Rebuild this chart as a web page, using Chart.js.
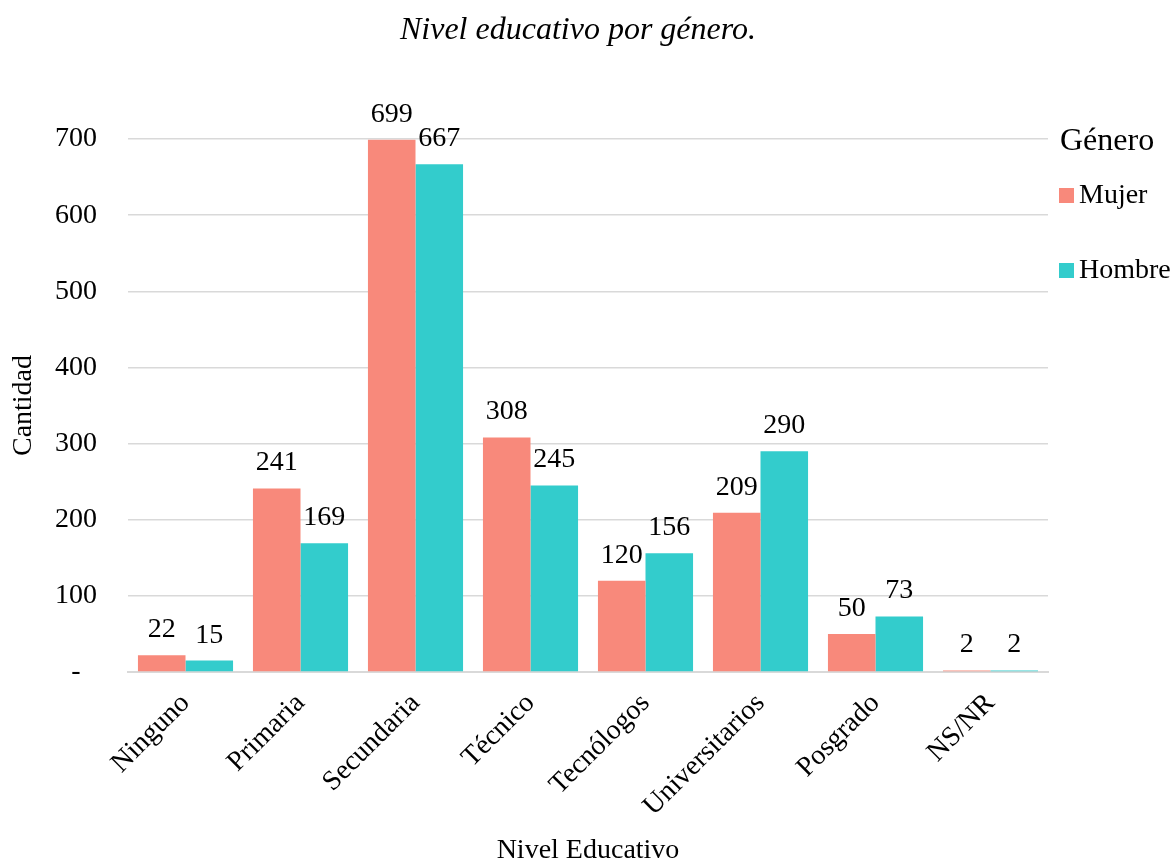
<!DOCTYPE html>
<html>
<head>
<meta charset="utf-8">
<script src="https://cdn.jsdelivr.net/npm/chart.js@4/dist/chart.umd.min.js"></script>
<style>
  html, body { margin: 0; padding: 0; background: #fff; }
  #wrap { width: 1176px; height: 861px; }
</style>
</head>
<body>
<div id="wrap"><canvas id="c" width="1176" height="861"></canvas></div>
<script>
// Nivel educativo por género
const categories = ['Ninguno', 'Primaria', 'Secundaria', 'Técnico', 'Tecnólogos', 'Universitarios', 'Posgrado', 'NS/NR'];
const mujer = [22, 241, 699, 308, 120, 209, 50, 2];
const hombre = [15, 169, 667, 245, 156, 290, 73, 2];
const seriesNames = ['Mujer', 'Hombre'];
const yTicks = [0, 100, 200, 300, 400, 500, 600, 700];

const SERIF = '"Liberation Serif", "Times New Roman", serif';
const COLORS = ['#F8897B', '#33CCCC'];

// value labels above each bar
const barValues = {
  id: 'barValues',
  afterDatasetsDraw(chart) {
    const ctx = chart.ctx;
    ctx.save();
    ctx.font = '28px ' + SERIF;
    ctx.fillStyle = '#000';
    ctx.textAlign = 'center';
    ctx.textBaseline = 'alphabetic';
    chart.data.datasets.forEach((ds, di) => {
      chart.getDatasetMeta(di).data.forEach((bar, i) => {
        ctx.fillText(String(ds.data[i]), bar.x, bar.y - 18);
      });
    });
    ctx.restore();
  }
};

// legend with title drawn in the right-hand gutter
const sideLegend = {
  id: 'sideLegend',
  afterDraw(chart) {
    const ctx = chart.ctx;
    const x0 = chart.chartArea.right + 11;
    ctx.save();
    ctx.fillStyle = '#000';
    ctx.textAlign = 'left';
    ctx.textBaseline = 'middle';
    ctx.font = '32px ' + SERIF;
    ctx.fillText('Género', x0 + 1, chart.chartArea.top + 3);
    ctx.font = '28px ' + SERIF;
    chart.data.datasets.forEach((ds, i) => {
      const cy = chart.chartArea.top + 57 + i * 75;
      ctx.fillStyle = ds.backgroundColor;
      ctx.fillRect(x0, cy - 8, 15, 15);
      ctx.fillStyle = '#000';
      ctx.fillText(ds.label, x0 + 20, cy);
    });
    ctx.restore();
  }
};

new Chart(document.getElementById('c'), {
  type: 'bar',
  data: {
    labels: categories,
    datasets: [
      { label: seriesNames[0], data: mujer, backgroundColor: COLORS[0], borderWidth: 0 },
      { label: seriesNames[1], data: hombre, backgroundColor: COLORS[1], borderWidth: 0 }
    ]
  },
  options: {
    responsive: false,
    animation: false,
    layout: { padding: { left: 0, right: 20, top: 0, bottom: -6 } },
    categoryPercentage: 0.827,
    barPercentage: 1.0,
    plugins: {
      legend: { display: false },
      tooltip: { enabled: false },
      title: {
        display: true,
        text: 'Nivel educativo por género.',
        color: '#000',
        font: { family: SERIF, size: 32, style: 'italic', weight: 'normal' },
        padding: { top: 11, bottom: 89.6 }
      }
    },
    scales: {
      x: {
        grid: { display: false, drawTicks: false },
        border: { display: true, color: '#d9d9d9', width: 2 },
        ticks: {
          color: '#000',
          font: { family: SERIF, size: 28 },
          minRotation: 45,
          maxRotation: 45,
          padding: 15
        },
        title: {
          display: true,
          text: 'Nivel Educativo',
          color: '#000',
          font: { family: SERIF, size: 28 },
          padding: { top: 0, bottom: 0 }
        },
        afterFit(scale) { scale.height = 195; }
      },
      y: {
        min: 0,
        max: 700,
        afterBuildTicks(scale) { scale.ticks = yTicks.map(v => ({ value: v })); },
        grid: { color: '#d9d9d9', lineWidth: 1.5, drawTicks: false },
        border: { display: false },
        ticks: {
          color: '#000',
          font: { family: SERIF, size: 28 },
          padding: 31,
          crossAlign: 'center',
          callback: (v) => (v === 0 ? '-' : String(v))
        },
        title: {
          display: true,
          text: 'Cantidad',
          color: '#000',
          font: { family: SERIF, size: 28 },
          padding: { top: 7, bottom: 0 }
        },
        afterFit(scale) { scale.width = 128; }
      },
      // empty right-hand axis that keeps the gutter for the legend
      legendGutter: {
        type: 'linear',
        position: 'right',
        display: true,
        min: 0,
        max: 700,
        grid: { display: false, drawTicks: false },
        border: { display: false },
        ticks: { display: false },
        afterFit(scale) { scale.width = 108; }
      }
    }
  },
  plugins: [barValues, sideLegend]
});
</script>
</body>
</html>
